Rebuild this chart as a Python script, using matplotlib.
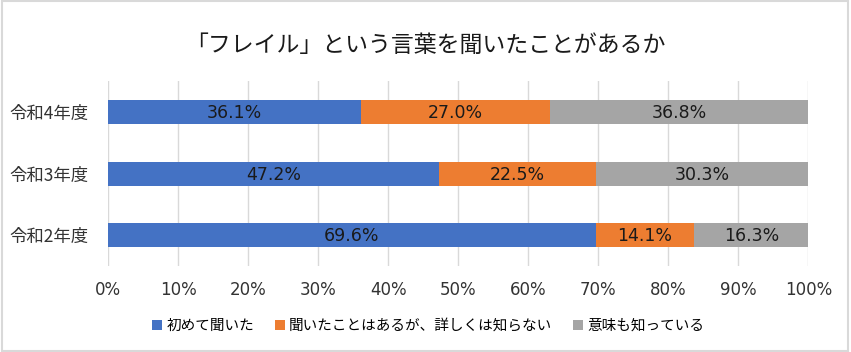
import matplotlib.pyplot as plt
import numpy as np
from matplotlib.patches import Rectangle

plt.rcParams['font.family'] = ['Noto Sans CJK JP', 'DejaVu Sans']

years = ['令和2年度', '令和3年度', '令和4年度']
first_time = [69.6, 47.2, 36.1]
heard_only = [14.1, 22.5, 27.0]
know_meaning = [16.3, 30.3, 36.8]
series_names = ['初めて聞いた', '聞いたことはあるが、詳しくは知らない', '意味も知っている']
colors = ['#4472C4', '#ED7D31', '#A5A5A5']

fig = plt.figure(figsize=(8.51, 3.52), dpi=100)
ax = fig.add_axes([0.127, 0.244, 0.823, 0.526])

# outer frame like the excel chart area
fig.patches.append(Rectangle((0.002, 0.003), 0.995, 0.994, transform=fig.transFigure,
                             fill=False, edgecolor='#d9d9d9', linewidth=1.5))

y = np.arange(len(years))
left = np.zeros(len(years))
for vals, name, c in zip([first_time, heard_only, know_meaning], series_names, colors):
    vals = np.array(vals)
    ax.barh(y, vals, left=left, height=0.39, color=c, label=name, zorder=3)
    for yi, l, v in zip(y, left, vals):
        ax.text(l + v / 2, yi - 0.02, f'{v:.1f}%', ha='center', va='center',
                fontsize=12.5, color='#1a1a1a', family='DejaVu Sans', zorder=4)
    left = left + vals

ax.set_xlim(0, 100)
ax.set_ylim(-0.5, 2.5)
ax.set_xticks(np.arange(0, 101, 10))
ax.set_xticklabels([f'{t}%' for t in range(0, 101, 10)], family='DejaVu Sans', fontsize=12)
ax.set_yticks(y)
ax.set_yticklabels(years, fontsize=12.5)
ax.tick_params(axis='both', length=0, colors='#333333')
ax.tick_params(axis='y', pad=14)
ax.tick_params(axis='x', pad=11)
ax.grid(axis='x', color='#d9d9d9', linewidth=1, zorder=0)
for s in ax.spines.values():
    s.set_visible(False)

fig.suptitle('「フレイル」という言葉を聞いたことがあるか', y=0.905, fontsize=16.5, color='#1a1a1a')

fig.legend(loc='center', bbox_to_anchor=(0.503, 0.074), ncol=3, frameon=False,
           fontsize=10.5, handlelength=0.7, handleheight=0.7, handletextpad=0.3,
           columnspacing=1.4)

fig.savefig('out.png', dpi=100)
